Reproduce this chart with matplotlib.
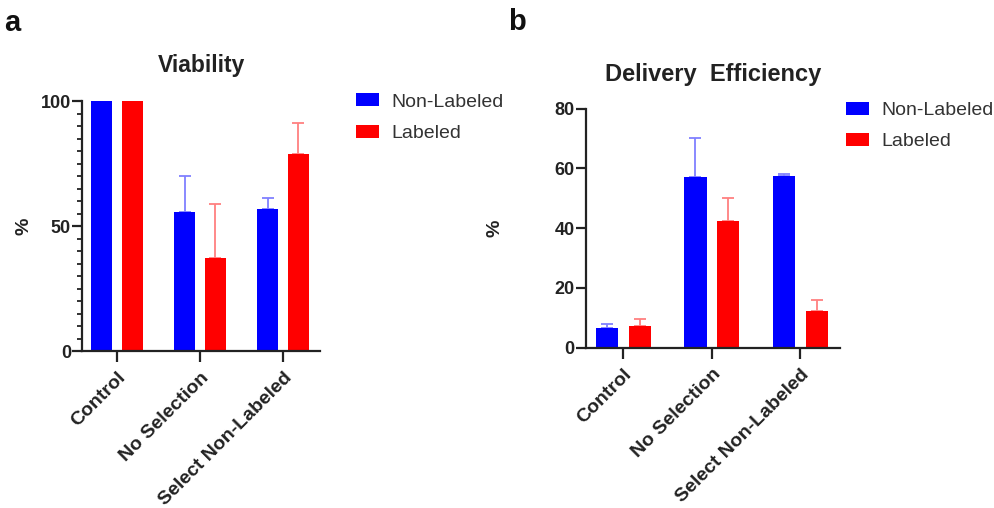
import numpy as np
import matplotlib
matplotlib.use('Agg')
import matplotlib.pyplot as plt
from matplotlib.ticker import MultipleLocator

plt.rcParams['font.family'] = ['Liberation Sans', 'DejaVu Sans']

groups = ['Control', 'No Selection', 'Select Non-Labeled']
series = ['Non-Labeled', 'Labeled']
colors = ['#0000FF', '#FF0000']

# panel a: viability
via_non = [100, 55.5, 56.8]
via_non_err = [0, 14.6, 4.5]
via_lab = [100, 37.1, 78.8]
via_lab_err = [0, 21.7, 12.5]

# panel b: delivery efficiency
eff_non = [6.5, 57.0, 57.5]
eff_non_err = [1.4, 13.1, 0.5]
eff_lab = [7.4, 42.5, 12.4]
eff_lab_err = [2.1, 7.5, 3.6]

fig = plt.figure(figsize=(9.94, 5.08), dpi=100)
axa = fig.add_axes([0.0825, 0.309, 0.2395, 0.492])
axb = fig.add_axes([0.5895, 0.3156, 0.2555, 0.4704])

x = np.arange(len(groups))
w = 0.25
off = 0.185


def panel(ax, vals, errs, ymax, step, minor, title, title_y, title_fs):
    for i, (v, e) in enumerate(zip(vals, errs)):
        pos = x + (-off if i == 0 else off)
        ax.bar(pos, v, width=w, color=colors[i], label=series[i], zorder=2)
        errc = '#8080FF' if i == 0 else '#FF8080'
        ax.errorbar(pos, v, yerr=[np.zeros(len(e)), e], fmt='none', ecolor=errc,
                    elinewidth=1.3, capsize=4.5, capthick=1.3, zorder=1)
    ax.set_ylim(0, ymax)
    ax.set_xlim(-0.42, 2.445)
    ax.yaxis.set_major_locator(MultipleLocator(step))
    if minor:
        ax.yaxis.set_minor_locator(MultipleLocator(minor))
    ax.set_xticks(x)
    ax.set_xticklabels(groups, rotation=45, ha='right', rotation_mode='anchor',
                       fontsize=14, fontweight='bold', color='#222222')
    for lab in ax.get_yticklabels():
        lab.set_fontweight('bold')
        lab.set_fontsize(13)
        lab.set_color('#222222')
    ax.spines['top'].set_visible(False)
    ax.spines['right'].set_visible(False)
    for s in ['left', 'bottom']:
        ax.spines[s].set_linewidth(1.6)
        ax.spines[s].set_color('#222222')
    ax.tick_params(axis='y', which='major', length=7, width=1.6, pad=1, color='#222222')
    ax.tick_params(axis='y', which='minor', length=3.5, width=1.3, color='#222222')
    ax.tick_params(axis='x', length=8, width=1.6, pad=5, color='#222222')
    ax.set_ylabel('%', fontsize=14, fontweight='bold', color='#222222')
    ax.set_title(title, fontsize=title_fs, fontweight='bold', color='#222222', y=title_y)


panel(axa, [via_non, via_lab], [via_non_err, via_lab_err], 100, 50, 5,
      'Viability', 1.085, 16.5)
panel(axb, [eff_non, eff_lab], [eff_non_err, eff_lab_err], 80, 20, None,
      'Delivery  Efficiency', 1.08, 17)
axa.yaxis.set_label_coords(-0.21, 0.5)
axb.yaxis.set_label_coords(-0.325, 0.5)

for ax, lx, ly in [(axa, 0.358, 0.816), (axb, 0.851, 0.800)]:
    h, l = ax.get_legend_handles_labels()
    fig.legend(h, l, loc='upper left', bbox_to_anchor=(lx, ly), frameon=False,
               fontsize=14, labelcolor='#333333', handlelength=1.2, handleheight=0.65,
               handletextpad=0.65, labelspacing=0.72, borderpad=0, borderaxespad=0)

fig.text(0.004, 0.955, 'a', fontsize=21, fontweight='bold', va='center', color='#111111')
fig.text(0.511, 0.957, 'b', fontsize=21, fontweight='bold', va='center', color='#111111')

fig.savefig('out.png', dpi=100)
